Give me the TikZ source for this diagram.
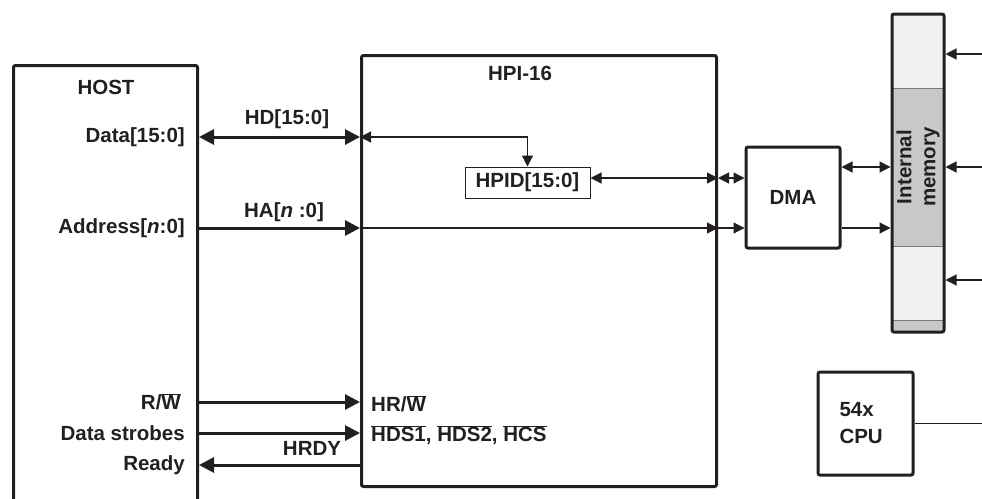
\documentclass[tikz,border=0pt]{standalone}
\usepackage{fontspec}
\setmainfont{Liberation Sans}
\usepackage{tikz}
\usetikzlibrary{arrows.meta}

\definecolor{ink}{HTML}{231F20}
\definecolor{memlight}{HTML}{F0F1F3}
\definecolor{memdark}{HTML}{C7C8CA}
\newcommand{\barsig}[1]{$\overline{\mbox{#1}}$}

\begin{document}
\begin{tikzpicture}[x=1pt, y=-1pt,
        block/.style={draw=ink, line width=3pt, rectangle, rounded corners=2pt, inner sep=0pt},
        reg/.style={draw=ink, line width=1pt, rectangle, inner sep=0pt, minimum width=125pt, minimum height=31pt},
        lbl/.style={inner sep=1pt},
        bus/.style={draw=ink, line width=3pt, >={Triangle[length=15pt,width=15pt]}},
        wire/.style={draw=ink, line width=1.2pt, >={Triangle[length=11pt,width=11pt]}},
        text=ink,
        font=\fontsize{20.5}{27}\selectfont\bfseries
    ]
    \useasboundingbox (0,0) rectangle (982,498);
    \clip (0,0) rectangle (982,498);

    % Memory sections
    \fill[memlight] (892,14) rectangle (944,88);
    \fill[memdark] (892,88) rectangle (944,246);
    \fill[memlight] (892,246) rectangle (944,320);
    \fill[memdark] (892,320) rectangle (944,332);
    \draw[ink!60, line width=0.6pt] (892,88) -- (944,88) (892,246) -- (944,246) (892,320) -- (944,320);

    % Nodes
    \node[block, anchor=north west, minimum width=184pt, minimum height=460pt] (host) at (12,64) {};
    \node[lbl] (hosttitle) at (106,87) {HOST};
    \node[block, anchor=north west, minimum width=355pt, minimum height=431pt] (hpi) at (360,54) {};
    \node[lbl] (hpititle) at (520,73) {HPI-16};
    \node[reg] (hpid) at (527.5,182.5) {HPID[15:0]};
    \node[block, minimum width=94pt, minimum height=101pt] (dma) at (793,197.5) {DMA};
    \node[block, minimum width=52pt, minimum height=318pt] (mem) at (918,173) {};
    \node[lbl, rotate=90, align=center, font=\fontsize{20.5}{24}\selectfont\bfseries] (memtext) at (918,167) {Internal\\memory};
    \node[block, minimum width=95pt, minimum height=103pt, text width=52pt, align=left] (cpu) at (865.5,423.5) {54x\\CPU};

    % Host signal names
    \node[lbl, anchor=east] (data) at (186,137) {Data[15:0]};
    \node[lbl, anchor=east] (addr) at (186,228) {Address[\textit{n}:0]};
    \node[lbl, anchor=east] (rw) at (182,402) {R/\barsig{W}};
    \node[lbl, anchor=east] (strobe) at (186,433) {Data strobes};
    \node[lbl, anchor=east] (ready) at (186,465) {Ready};

    % Bus labels
    \node[lbl] (hd) at (287,119) {HD[15:0]};
    \node[lbl] (ha) at (284,212) {HA[\textit{n} :0]};
    \node[lbl] (hrdy) at (312,448) {HRDY};
    \node[lbl, anchor=west] (hrw) at (370,404) {HR/\barsig{W}};
    \node[lbl, anchor=west] (hds) at (370,435) {\barsig{HDS1}, \barsig{HDS2}, \barsig{HCS}};

    % Free ends
    \coordinate (port) at ([yshift=4.5pt]hpid.east);
    \coordinate (in1) at (982,54);
    \coordinate (in2) at (982,167);
    \coordinate (in3) at (982,280);
    \coordinate (cpuout) at (982,423.5);

    % Host to HPI
    \draw[bus, <->] (host.east |- data) -- (hpi.west |- data);
    \draw[bus, ->] (host.east |- addr) -- (hpi.west |- addr);
    \draw[bus, ->] (host.east |- rw) -- (hpi.west |- rw);
    \draw[bus, ->] (host.east |- strobe) -- (hpi.west |- strobe);
    \draw[bus, <-] (host.east |- ready) -- (hpi.west |- ready);

    % Inside HPI
    \draw[wire, <->] (hpi.west |- data) -| (hpid.north);
    \draw[wire, <->] (port) -- (hpi.east |- port);
    \draw[wire, ->] (hpi.west |- addr) -- (hpi.east |- addr);

    % HPI to DMA to memory
    \draw[wire, <->] (hpi.east |- port) -- (dma.west |- port);
    \draw[wire, ->] (hpi.east |- addr) -- (dma.west |- addr);
    \draw[wire, <->] (dma.east |- memtext) -- (mem.west |- memtext);
    \draw[wire, ->] (dma.east |- addr) -- (mem.west |- addr);

    % Other memory ports
    \draw[wire, ->] (in1) -- (mem.east |- in1);
    \draw[wire, ->] (in2) -- (mem.east |- in2);
    \draw[wire, ->] (in3) -- (mem.east |- in3);
    \draw[wire] (cpu.east) -- (cpuout);
\end{tikzpicture}
\end{document}
